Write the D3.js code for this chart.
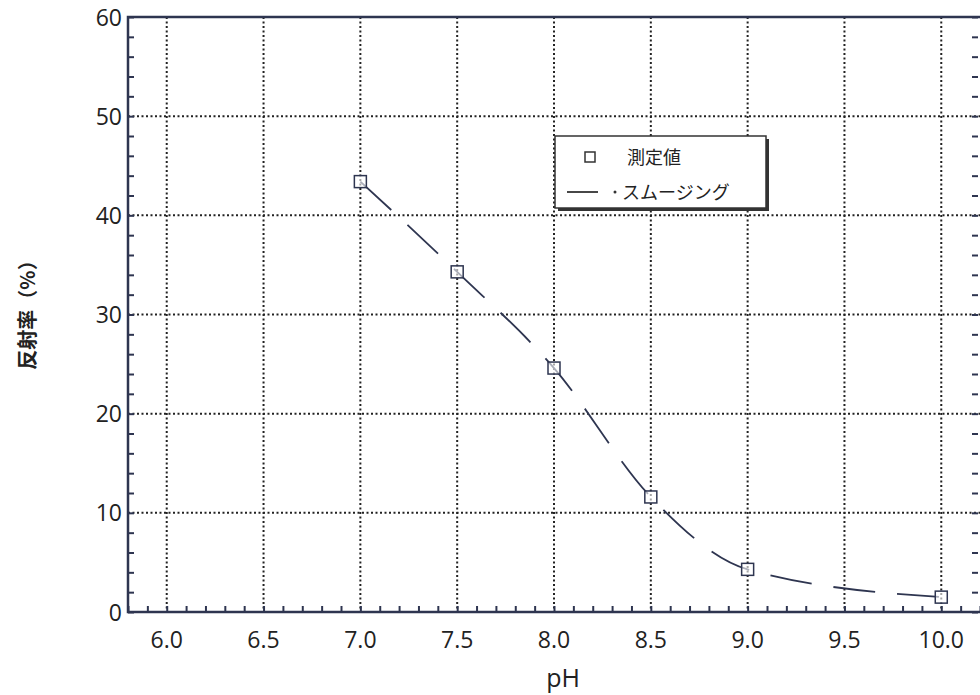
<!DOCTYPE html>
<html><head><meta charset="utf-8">
<script src="https://cdn.jsdelivr.net/npm/d3@7"></script>
<style>body{margin:0;background:#fff;}svg{display:block;}</style>
</head><body>
<script>
const pH = [7.0, 7.5, 8.0, 8.5, 9.0, 10.0];
const reflectance = [43.4, 34.3, 24.6, 11.6, 4.3, 1.5];
const xTicks = [6.0, 6.5, 7.0, 7.5, 8.0, 8.5, 9.0, 9.5, 10.0];
const yTicks = [0, 10, 20, 30, 40, 50, 60];
const legendLabels = ["測定値", "スムージング"];
const xTitle = "pH", yTitle = "反射率（%）";

const W = 980, H = 695;
const L = 128, R = 980, T = 17, B = 612;
const svg = d3.select("body").append("svg").attr("width", W).attr("height", H);
const x = d3.scaleLinear().domain([5.8, 10.2]).range([L, R]);
const y = d3.scaleLinear().domain([0, 60]).range([B, T]);
const ink = "#2e3550";
const font = "'Open Sans', 'DejaVu Sans', sans-serif";

// grid
const g = svg.append("g");
g.selectAll(".vx").data(xTicks).join("line")
  .attr("x1", d => x(d)).attr("x2", d => x(d)).attr("y1", T).attr("y2", B)
  .attr("stroke", "#222").attr("stroke-width", 2).attr("stroke-dasharray", "2,2.5");
g.selectAll(".hy").data(yTicks.filter(d => d > 0 && d < 60)).join("line")
  .attr("y1", d => y(d)).attr("y2", d => y(d)).attr("x1", L).attr("x2", R)
  .attr("stroke", "#222").attr("stroke-width", 2).attr("stroke-dasharray", "2,2.5");

// axes (ticks inward)
const xMinor = d3.range(58, 103).map(v => v / 10);
const yMinor = d3.range(0, 61, 2);
svg.append("g").attr("transform", `translate(0,${B})`)
  .call(d3.axisTop(x).tickValues(xMinor).tickSize(6).tickFormat(""))
  .call(a => a.select(".domain").remove())
  .selectAll("line").attr("stroke", ink).attr("stroke-width", 2);
svg.append("g").attr("transform", `translate(${L},0)`)
  .call(d3.axisRight(y).tickValues(yMinor).tickSize(6).tickFormat(""))
  .call(a => a.select(".domain").remove())
  .selectAll("line").attr("stroke", ink).attr("stroke-width", 2);
svg.append("g").attr("transform", `translate(${R - 2},0)`)
  .call(d3.axisLeft(y).tickValues(yMinor).tickSize(6).tickFormat(""))
  .call(a => a.select(".domain").remove())
  .selectAll("line").attr("stroke", ink).attr("stroke-width", 2);

// tick labels
svg.append("g").selectAll("text").data(xTicks).join("text")
  .attr("x", d => x(d)).attr("y", 648).attr("text-anchor", "middle")
  .attr("font-family", font).attr("font-size", 23).attr("fill", "#222")
  .text(d => d.toFixed(1));
svg.append("g").selectAll("text").data(yTicks).join("text")
  .attr("x", 122).attr("y", d => y(d) + 8.5).attr("text-anchor", "end")
  .attr("font-family", font).attr("font-size", 23).attr("fill", "#222")
  .text(d => d);

// frame
svg.append("rect").attr("x", L).attr("y", T).attr("width", R - L + 2).attr("height", B - T)
  .attr("fill", "none").attr("stroke", ink).attr("stroke-width", 2.5);

// titles
svg.append("text").attr("x", 563).attr("y", 687).attr("text-anchor", "middle")
  .attr("font-family", font).attr("font-size", 25).attr("fill", "#222").text(xTitle);
svg.append("text").attr("transform", "translate(35,310) rotate(-90)").attr("text-anchor", "middle")
  .attr("font-family", "'Noto Sans CJK JP', sans-serif").attr("font-weight", "bold")
  .attr("font-size", 20).attr("fill", "#222").text(yTitle);

// smoothing curve
const pts = pH.map((p, i) => [p, reflectance[i]]);
const line = d3.line().x(d => x(d[0])).y(d => y(d[1])).curve(d3.curveMonotoneX);
svg.append("path").attr("d", line(pts)).attr("fill", "none")
  .attr("stroke", ink).attr("stroke-width", 1.8).attr("stroke-dasharray", "42,22");

// markers
svg.append("g").selectAll("rect").data(pts).join("rect")
  .attr("x", d => x(d[0]) - 6).attr("y", d => y(d[1]) - 6).attr("width", 12).attr("height", 12)
  .attr("fill", "rgba(255,255,255,0.6)").attr("stroke", ink).attr("stroke-width", 1.5);

// legend
const lg = svg.append("g");
lg.append("rect").attr("x", 558).attr("y", 139).attr("width", 211).attr("height", 72).attr("fill", "#333");
lg.append("rect").attr("x", 555).attr("y", 136).attr("width", 211).attr("height", 72)
  .attr("fill", "#fff").attr("stroke", "#333").attr("stroke-width", 1.5);
lg.append("rect").attr("x", 585).attr("y", 152).attr("width", 10).attr("height", 10)
  .attr("fill", "none").attr("stroke", "#333").attr("stroke-width", 1.5);
lg.append("text").attr("x", 627).attr("y", 164).attr("font-family", "'Noto Sans CJK JP', sans-serif")
  .attr("font-size", 18).attr("fill", "#222").text(legendLabels[0]);
lg.append("line").attr("x1", 567).attr("x2", 598).attr("y1", 192).attr("y2", 192)
  .attr("stroke", "#333").attr("stroke-width", 1.8);
lg.append("circle").attr("cx", 615).attr("cy", 192).attr("r", 1.5).attr("fill", "#333");
lg.append("text").attr("x", 622).attr("y", 199).attr("font-family", "'Noto Sans CJK JP', sans-serif")
  .attr("font-size", 18).attr("fill", "#222").text(legendLabels[1]);
</script>
</body></html>
